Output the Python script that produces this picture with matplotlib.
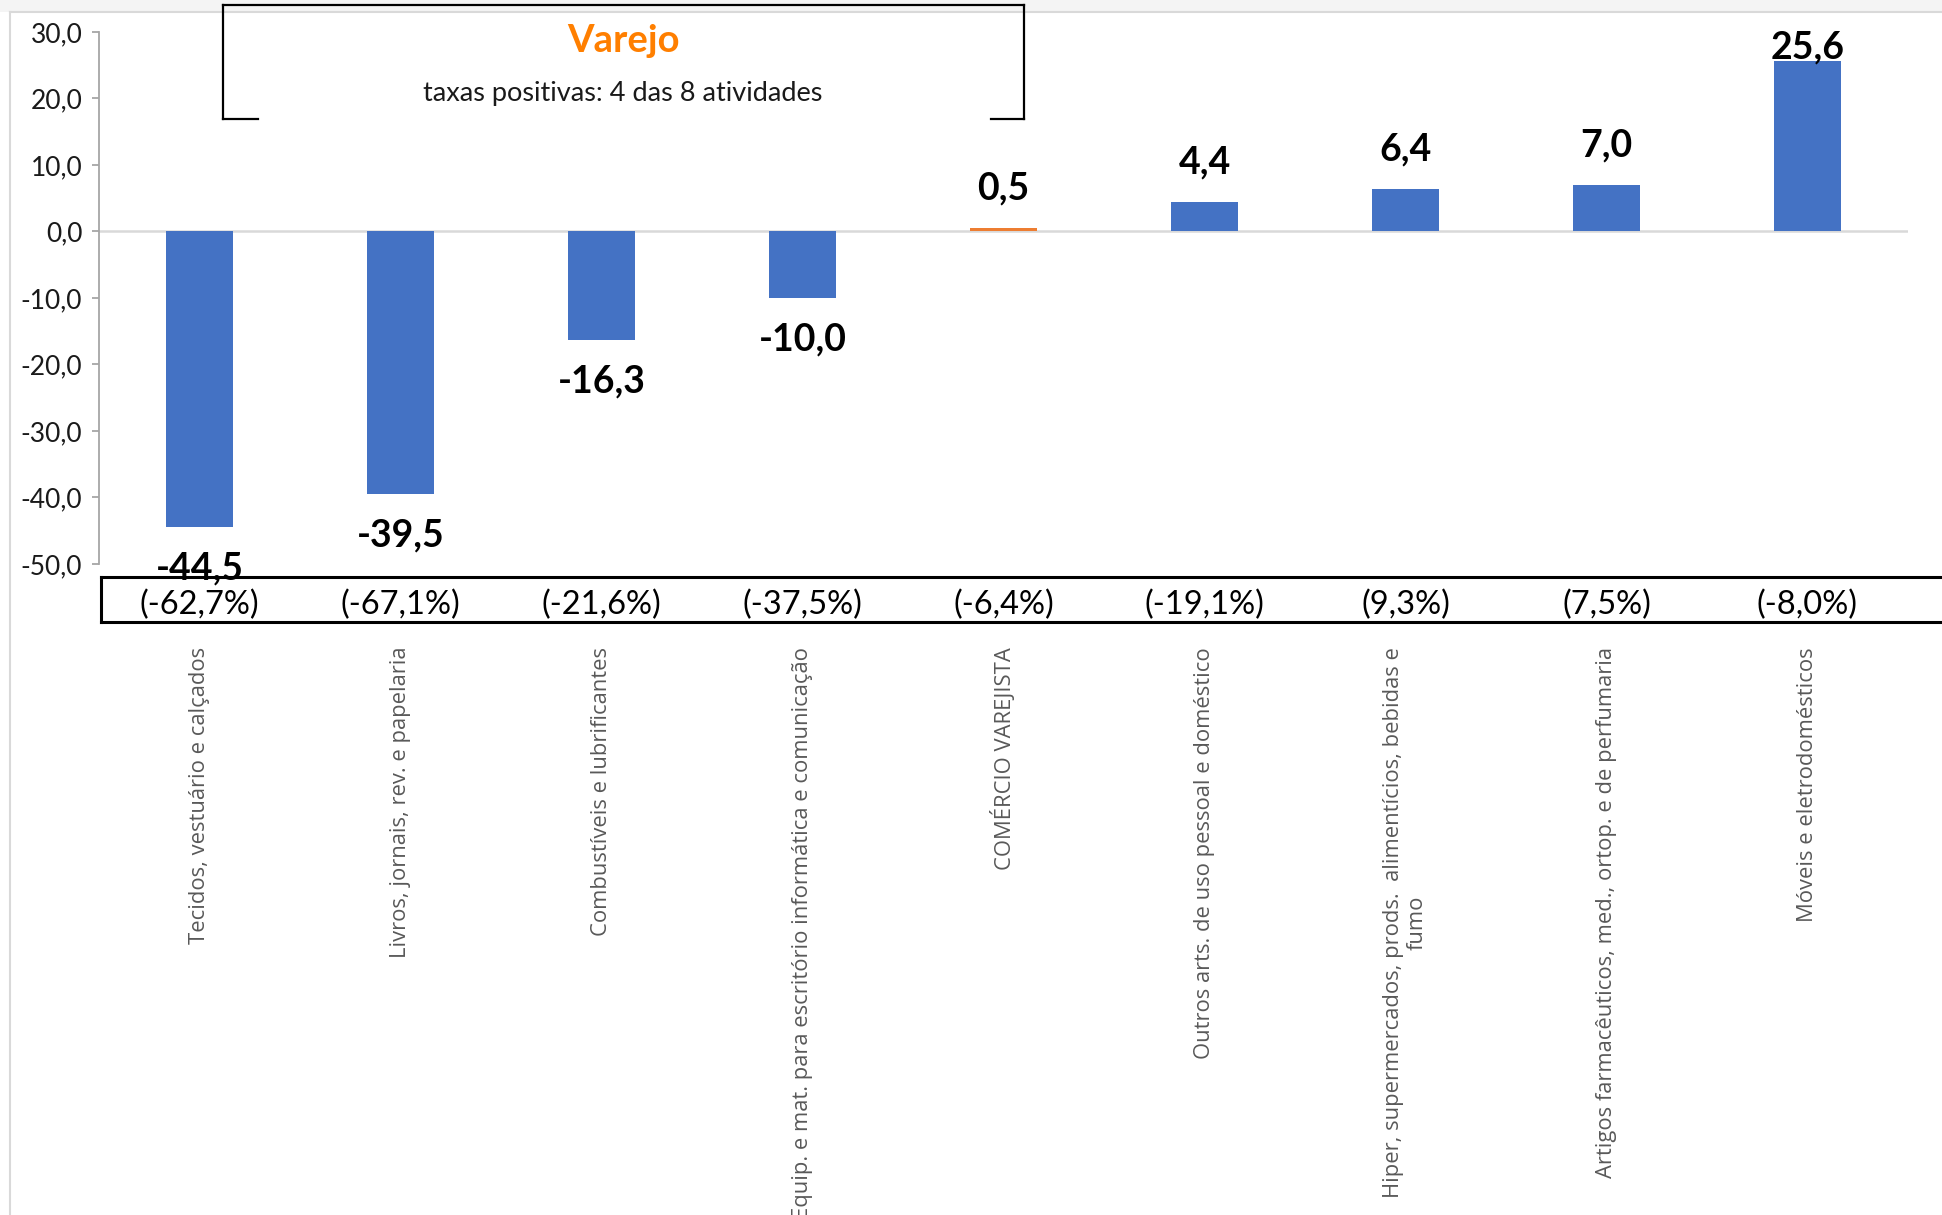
import matplotlib
matplotlib.use("Agg")
import matplotlib.pyplot as plt
import matplotlib.transforms as mtransforms
from matplotlib.lines import Line2D
from matplotlib.patches import Rectangle
from matplotlib.ticker import FuncFormatter

# ── Data ──────────────────────────────────────────────────────────────────────
categories = [
    "Tecidos, vestuário e calçados",
    "Livros, jornais, rev. e papelaria",
    "Combustíveis e lubrificantes",
    "Equip. e mat. para escritório informática e comunicação",
    "COMÉRCIO VAREJISTA",
    "Outros arts. de uso pessoal e doméstico",
    "Hiper, supermercados, prods.  alimentícios, bebidas e\nfumo",
    "Artigos farmacêuticos, med., ortop. e de perfumaria",
    "Móveis e eletrodomésticos",
]
values = [-44.5, -39.5, -16.3, -10.0, 0.5, 4.4, 6.4, 7.0, 25.6]
pct_labels = ["(-62,7%)", "(-67,1%)", "(-21,6%)", "(-37,5%)", "(-6,4%)",
              "(-19,1%)", "(9,3%)", "(7,5%)", "(-8,0%)"]
highlight = "COMÉRCIO VAREJISTA"
box_title = "Varejo"
box_subtitle = "taxas positivas: 4 das 8 atividades"

BLUE = "#4472C4"
ORANGE = "#ED7D31"
FONT = "Lato"

W, H = 1942, 1215
fig = plt.figure(figsize=(W / 100, H / 100), dpi=100)


def fx(x):
    return x / W


def fy(y):
    return 1 - y / H


def fig_line(xs, ys, color="black", lw=1.8):
    fig.add_artist(Line2D([fx(x) for x in xs], [fy(y) for y in ys],
                          transform=fig.transFigure, color=color, lw=lw,
                          solid_capstyle="projecting"))


# light frame of the original slide
fig.add_artist(Rectangle((0, fy(12)), 1, 12 / H, transform=fig.transFigure,
                         color="#F4F4F4", lw=0, zorder=0))
fig_line([10, W], [12, 12], color="#D9D9D9", lw=1.5)
fig_line([10, 10], [12, H], color="#D9D9D9", lw=1.5)

# ── Axes ──────────────────────────────────────────────────────────────────────
ax = fig.add_axes([fx(99), fy(564), (1908 - 99) / W, (564 - 32) / H])
x = list(range(len(categories)))
colors = [ORANGE if c == highlight else BLUE for c in categories]
ax.bar(x, values, width=0.33, color=colors, zorder=2)
ax.axhline(0, color="#D9D9D9", lw=1.8, zorder=1)

ax.set_xlim(-0.5, len(categories) - 0.5)
ax.set_ylim(-50, 30)
ax.set_yticks(range(-50, 31, 10))
ax.yaxis.set_major_formatter(FuncFormatter(lambda v, p: f"{v:.1f}".replace(".", ",")))
ax.set_xticks([])
for s in ["top", "right", "bottom"]:
    ax.spines[s].set_visible(False)
ax.spines["left"].set_color("#A6A6A6")
ax.spines["left"].set_linewidth(1.3)
ax.tick_params(axis="y", length=5, width=1.3, color="#A6A6A6", pad=7,
               labelsize=19, labelcolor="#1A1A1A")
for t in ax.get_yticklabels():
    t.set_family(FONT)

# data labels (kept inside the plot area like Excel does)
for i, v in enumerate(values):
    if v >= 0:
        ylab = min(v + 6.0, 27.6)
    else:
        ylab = v - 6.2
    ax.text(i, ylab, f"{v:.1f}".replace(".", ","), ha="center", va="center",
            fontsize=27, fontweight="bold", family=FONT, color="black", zorder=4)

# percentage row and category labels
trans = mtransforms.blended_transform_factory(ax.transData, ax.transAxes)
for i, (c, p) in enumerate(zip(categories, pct_labels)):
    ax.text(i, -0.076, p, transform=trans, ha="center", va="center",
            fontsize=23.5, family=FONT, color="black", clip_on=False)
    ax.text(i, -0.156, c, transform=trans, ha="center", va="top",
            rotation=90, multialignment="center", fontsize=15.8,
            family="Open Sans", color="#595959", clip_on=False)

# box around the percentage row
fig_line([101, W], [577, 577], lw=2.2)
fig_line([101, W], [622, 622], lw=2.2)
fig_line([101, 101], [577, 622], lw=2.2)

# annotation box at the top
fig_line([223, 258], [119, 119], lw=1.6)
fig_line([223, 223], [5, 119], lw=1.6)
fig_line([223, 1024], [5, 5], lw=1.6)
fig_line([1024, 1024], [5, 119], lw=1.6)
fig_line([991, 1024], [119, 119], lw=1.6)
fig.text(fx(623), fy(41), box_title, ha="center", va="center", fontsize=27.5,
         fontweight="bold", family=FONT, color="#FF7F00")
fig.text(fx(623), fy(93), box_subtitle, ha="center", va="center", fontsize=19.5,
         family=FONT, color="#1A1A1A")

fig.savefig("out.png", dpi=100)
